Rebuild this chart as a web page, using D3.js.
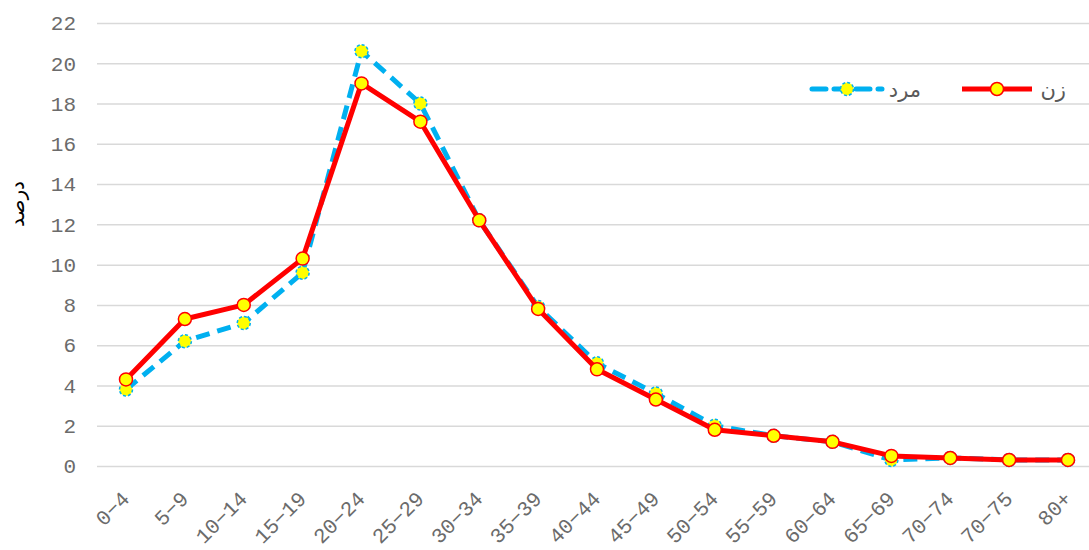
<!DOCTYPE html>
<html>
<head>
<meta charset="utf-8">
<script src="https://cdn.jsdelivr.net/npm/d3@7"></script>
<style>
  html, body { margin: 0; padding: 0; background: #fff; }
  svg { display: block; }
</style>
</head>
<body>
<svg id="chart" width="1089" height="550"></svg>
<script>
// Age groups and percentage shares per group
const ageGroups = ["0\u22124", "5\u22129", "10\u221214", "15\u221219", "20\u221224", "25\u221229", "30\u221234", "35\u221239",
  "40\u221244", "45\u221249", "50\u221254", "55\u221259", "60\u221264", "65\u221269", "70\u221274", "70\u221275", "80+"];
const female = [4.3, 7.3, 8.0, 10.3, 19.0, 17.1, 12.2, 7.8, 4.8, 3.3, 1.8, 1.5, 1.2, 0.5, 0.4, 0.3, 0.3];
const male   = [3.8, 6.2, 7.1, 9.6, 20.6, 18.0, 12.2, 7.9, 5.1, 3.6, 2.0, 1.5, 1.2, 0.3, 0.4, 0.3, 0.3];
const yTicks = [0, 2, 4, 6, 8, 10, 12, 14, 16, 18, 20, 22];

const svg = d3.select("#chart");
const W = 1089, H = 550;
const m = { left: 97, top: 23, bottom: 84 };

const x = d3.scalePoint().domain(ageGroups).range([126, 1068]);
const y = d3.scaleLinear().domain([0, 22]).range([H - m.bottom, m.top]);

const tickFont = "'Liberation Mono', 'DejaVu Sans Mono', monospace";
const tickColor = "#6b6b6b";

// Horizontal gridlines
const grid = svg.append("g").attr("transform", `translate(${m.left},0)`)
  .call(d3.axisLeft(y).tickValues(yTicks).tickSize(-(W - m.left)).tickFormat(""));
grid.select(".domain").remove();
grid.selectAll(".tick line").attr("stroke", "#d9d9d9").attr("stroke-width", 1.5);

// Y axis labels
const yAxis = svg.append("g").attr("transform", `translate(${m.left},0)`)
  .call(d3.axisLeft(y).tickValues(yTicks).tickSize(0).tickPadding(21));
yAxis.select(".domain").remove();
yAxis.selectAll("text").attr("fill", tickColor).style("font-family", tickFont).style("font-size", "21px");

// X axis labels, rotated 45 degrees, ending just below each tick
const xAxis = svg.append("g").attr("transform", `translate(0,${H - m.bottom})`)
  .call(d3.axisBottom(x).tickSize(0).tickPadding(0));
xAxis.select(".domain").remove();
xAxis.selectAll(".tick text")
  .attr("fill", tickColor)
  .style("font-family", tickFont).style("font-size", "21px")
  .attr("text-anchor", "end")
  .attr("x", 0)
  .attr("y", 0)
  .attr("dy", "0.35em")
  .attr("transform", "translate(-1,29) rotate(-45)");

// Y axis title
svg.append("text")
  .attr("transform", `translate(24,204) rotate(-90)`)
  .attr("text-anchor", "middle")
  .style("font-family", "'DejaVu Sans', sans-serif").style("font-size", "20px")
  .attr("fill", "#000")
  .text("درصد");

const line = d3.line().x((d, i) => x(ageGroups[i])).y(d => y(d));

const blue = "#00B0F0", red = "#FF0000", yellow = "#FFFF00";

// Male series: dashed blue line
svg.append("path").datum(male).attr("d", line)
  .attr("fill", "none").attr("stroke", blue).attr("stroke-width", 5)
  .attr("stroke-dasharray", "14,8").attr("stroke-linejoin", "round");
svg.append("g").selectAll("circle").data(male).join("circle")
  .attr("cx", (d, i) => x(ageGroups[i])).attr("cy", d => y(d)).attr("r", 6.5)
  .attr("fill", yellow).attr("stroke", blue).attr("stroke-width", 1.5)
  .attr("stroke-dasharray", "3,2");

// Female series: solid red line
svg.append("path").datum(female).attr("d", line)
  .attr("fill", "none").attr("stroke", red).attr("stroke-width", 5)
  .attr("stroke-linejoin", "round");
svg.append("g").selectAll("circle").data(female).join("circle")
  .attr("cx", (d, i) => x(ageGroups[i])).attr("cy", d => y(d)).attr("r", 6.5)
  .attr("fill", yellow).attr("stroke", red).attr("stroke-width", 1.5);

// Legend
const legend = svg.append("g");
const legendItems = [
  { name: "مرد", color: blue, dash: "14,8", x0: 812, mdash: "3,2", tx: 921 },
  { name: "زن", color: red, dash: null, x0: 962, mdash: null, tx: 1066 }
];
legendItems.forEach(it => {
  legend.append("line").attr("x1", it.x0).attr("x2", it.x0 + 70).attr("y1", 89).attr("y2", 89)
    .attr("stroke", it.color).attr("stroke-width", 5).attr("stroke-dasharray", it.dash)
    .attr("stroke-linecap", it.dash ? "round" : "butt");
  legend.append("circle").attr("cx", it.x0 + 35).attr("cy", 89).attr("r", 6.5)
    .attr("fill", yellow).attr("stroke", it.color).attr("stroke-width", 1.5)
    .attr("stroke-dasharray", it.mdash);
  legend.append("text").attr("x", it.tx).attr("y", 97).attr("text-anchor", "end")
    .style("font-family", "'DejaVu Sans', sans-serif").style("font-size", "21px")
    .attr("fill", "#595959").text(it.name);
});
</script>
</body>
</html>
